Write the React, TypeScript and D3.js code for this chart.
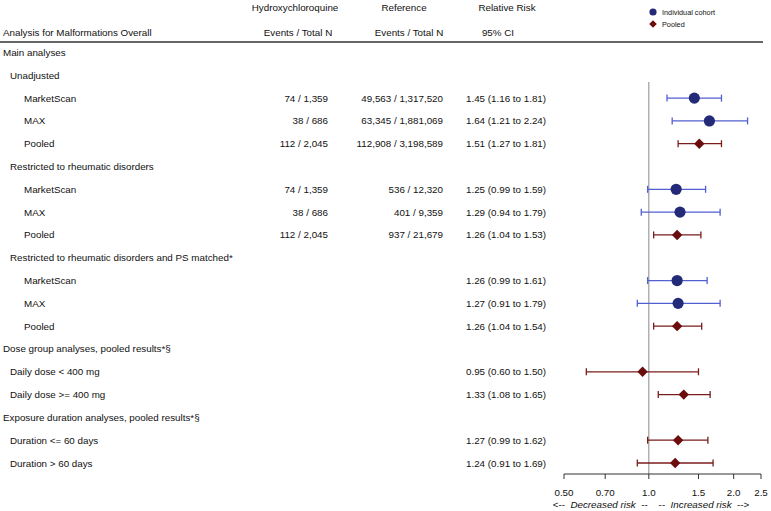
import React from "react";
import * as d3 from "d3";

const rowLabels = [
  "Main analyses",
  "Unadjusted",
  "MarketScan",
  "MAX",
  "Pooled",
  "Restricted to rheumatic disorders",
  "MarketScan",
  "MAX",
  "Pooled",
  "Restricted to rheumatic disorders and PS matched*",
  "MarketScan",
  "MAX",
  "Pooled",
  "Dose group analyses, pooled results*§",
  "Daily dose < 400 mg",
  "Daily dose >= 400 mg",
  "Exposure duration analyses, pooled results*§",
  "Duration <= 60 days",
  "Duration > 60 days",
];
const rowIndent = [0, 1, 2, 2, 2, 1, 2, 2, 2, 1, 2, 2, 2, 0, 1, 1, 0, 1, 1];
const hcqCounts = ["", "", "74 / 1,359", "38 / 686", "112 / 2,045", "", "74 / 1,359", "38 / 686", "112 / 2,045", "", "", "", "", "", "", "", "", "", ""];
const refCounts = ["", "", "49,563 / 1,317,520", "63,345 / 1,881,069", "112,908 / 3,198,589", "", "536 / 12,320", "401 / 9,359", "937 / 21,679", "", "", "", "", "", "", "", "", "", ""];
const rrValues: (number | null)[] = [null, null, 1.45, 1.64, 1.51, null, 1.25, 1.29, 1.26, null, 1.26, 1.27, 1.26, null, 0.95, 1.33, null, 1.27, 1.24];
const rrLower: (number | null)[] = [null, null, 1.16, 1.21, 1.27, null, 0.99, 0.94, 1.04, null, 0.99, 0.91, 1.04, null, 0.60, 1.08, null, 0.99, 0.91];
const rrUpper: (number | null)[] = [null, null, 1.81, 2.24, 1.81, null, 1.59, 1.79, 1.53, null, 1.61, 1.79, 1.54, null, 1.50, 1.65, null, 1.62, 1.69];
const markType = ["", "", "cohort", "cohort", "pooled", "", "cohort", "cohort", "pooled", "", "cohort", "cohort", "pooled", "", "pooled", "pooled", "", "pooled", "pooled"];
const tickValues = [0.5, 0.7, 1.0, 1.5, 2.0, 2.5];
const tickLabels = ["0.50", "0.70", "1.0", "1.5", "2.0", "2.5"];

const FONT = "'Liberation Sans', Arial, Helvetica, sans-serif";
const NAVY = "#232a78";
const BLUE_LINE = "#5261d2";
const RED = "#6b0d0d";
const RED_LINE = "#7a1c1c";

function fmt(v: number) {
  return v.toFixed(2);
}

export default function App() {
  const W = 771;
  const H = 511;
  const x = d3.scaleLog().domain([0.5, 2.5]).range([564, 761]);
  const y = d3.scaleLinear().domain([0, 18]).range([52.5, 463]);
  const axisY = 474;
  const indentX = [3, 10, 24];
  const fs = 9.8;

  const diamond = (cx: number, cy: number, r: number) =>
    `M${cx},${cy - r}L${cx + r},${cy}L${cx},${cy + r}L${cx - r},${cy}Z`;

  return (
    <svg
      width={W}
      height={H}
      style={{ position: "absolute", left: 0, top: 0, background: "#fff" }}
      fontFamily={FONT}
    >
      {/* headers */}
      <g fontSize={fs} fill="#111">
        <text x={3} y={32} dominantBaseline="central">Analysis for Malformations Overall</text>
        <text x={295} y={7.5} textAnchor="middle" dominantBaseline="central">Hydroxychloroquine</text>
        <text x={298} y={32} textAnchor="middle" dominantBaseline="central">Events / Total N</text>
        <text x={404} y={7.5} textAnchor="middle" dominantBaseline="central">Reference</text>
        <text x={409} y={32} textAnchor="middle" dominantBaseline="central">Events / Total N</text>
        <text x={507} y={7.5} textAnchor="middle" dominantBaseline="central">Relative Risk</text>
        <text x={498} y={32} textAnchor="middle" dominantBaseline="central">95% CI</text>
      </g>
      <line x1={0} x2={763} y1={42} y2={42} stroke="#333" strokeWidth={1.5} />

      {/* legend */}
      <circle cx={653} cy={12} r={3.6} fill={NAVY} />
      <path d={diamond(653, 24, 3.8)} fill={RED} />
      <g fontSize={7.3} fill="#111">
        <text x={662} y={12.5} dominantBaseline="central">Individual cohort</text>
        <text x={662} y={24.5} dominantBaseline="central">Pooled</text>
      </g>

      {/* reference line */}
      <line x1={x(1)} x2={x(1)} y1={82} y2={axisY} stroke="#8a8a8a" strokeWidth={1} />

      {/* rows */}
      <g fontSize={fs} fill="#111">
        {rowLabels.map((lab, i) => (
          <g key={i}>
            <text x={indentX[rowIndent[i]]} y={y(i)} dominantBaseline="central">{lab}</text>
            {hcqCounts[i] && (
              <text x={328} y={y(i)} textAnchor="end" dominantBaseline="central">{hcqCounts[i]}</text>
            )}
            {refCounts[i] && (
              <text x={443} y={y(i)} textAnchor="end" dominantBaseline="central">{refCounts[i]}</text>
            )}
            {rrValues[i] !== null && (
              <text x={466} y={y(i)} dominantBaseline="central">
                {`${fmt(rrValues[i] as number)} (${fmt(rrLower[i] as number)} to ${fmt(rrUpper[i] as number)})`}
              </text>
            )}
          </g>
        ))}
      </g>

      {/* CI marks */}
      {rrValues.map((v, i) => {
        if (v === null) return null;
        const lo = x(rrLower[i] as number);
        const hi = x(rrUpper[i] as number);
        const cy = y(i);
        const pooled = markType[i] === "pooled";
        const lc = pooled ? RED_LINE : BLUE_LINE;
        return (
          <g key={i}>
            <line x1={lo} x2={hi} y1={cy} y2={cy} stroke={lc} strokeWidth={1.3} />
            <line x1={lo} x2={lo} y1={cy - 3.5} y2={cy + 3.5} stroke={lc} strokeWidth={1.3} />
            <line x1={hi} x2={hi} y1={cy - 3.5} y2={cy + 3.5} stroke={lc} strokeWidth={1.3} />
            {pooled ? (
              <path d={diamond(x(v), cy, 5.2)} fill={RED} />
            ) : (
              <circle cx={x(v)} cy={cy} r={5.6} fill={NAVY} />
            )}
          </g>
        );
      })}

      {/* axis */}
      <line x1={x(0.5)} x2={x(2.5)} y1={axisY} y2={axisY} stroke="#333" strokeWidth={1} />
      {tickValues.map((t, i) => (
        <g key={i}>
          <line x1={x(t)} x2={x(t)} y1={axisY} y2={axisY + 5} stroke="#333" strokeWidth={1} />
          <text x={x(t)} y={492} textAnchor="middle" dominantBaseline="central" fontSize={fs} fill="#111">
            {tickLabels[i]}
          </text>
        </g>
      ))}
      <text
        x={651}
        y={504}
        textAnchor="middle"
        dominantBaseline="central"
        fontSize={fs}
        fill="#111"
        style={{ whiteSpace: "pre" }}
      >
        <tspan>{"<--  "}</tspan>
        <tspan fontStyle="italic">Decreased risk</tspan>
        <tspan>{"  --    --  "}</tspan>
        <tspan fontStyle="italic">Increased risk</tspan>
        <tspan>{"  -->"}</tspan>
      </text>
    </svg>
  );
}
